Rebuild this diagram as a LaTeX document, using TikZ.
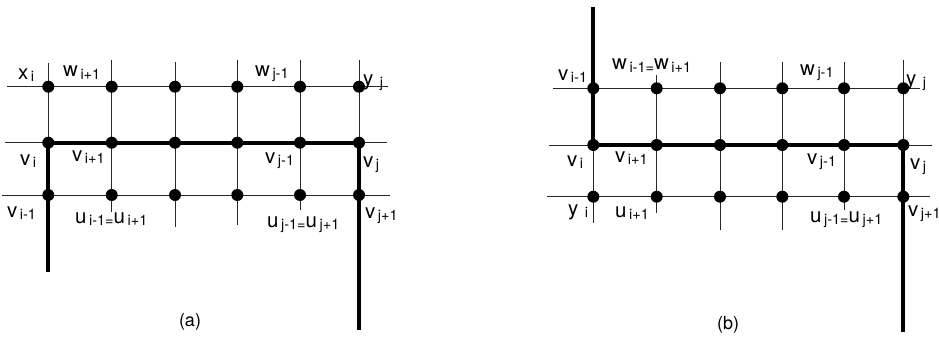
\documentclass[tikz,border=0pt]{standalone}
\usepackage{fontspec}
\setmainfont{TeX Gyre Heros}
\newcommand{\lb}[2]{{\fontsize{20.5}{20.5}\selectfont #1}\hspace{2.5pt}\raisebox{-2pt}{\fontsize{14.5}{14.5}\selectfont #2}}

\begin{document}
\begin{tikzpicture}[x=1pt,y=-1pt,
  grid/.style={line width=0.8pt,draw=black!85},
  route/.style={line width=4pt,draw=black},
  dot/.style={circle,fill=black,inner sep=0pt,minimum size=12pt},
  lbl/.style={anchor=base west,inner sep=0pt},
  panelcap/.style={font=\fontsize{18}{18}\selectfont},
]
  \useasboundingbox (0,0) rectangle (939,337);
  % panel (a): rows and columns
  \coordinate (aL1) at (7,86.7);   \coordinate (aR1) at (388,86.7);
  \coordinate (aL2) at (5,142.7);  \coordinate (aR2) at (387,142.7);
  \coordinate (aL3) at (2,195);    \coordinate (aR3) at (390,195);
  \foreach \c/\x/\t/\b in {1/48.3/63/272,2/111.7/60/212,3/175/62/227,4/237.3/60/225,5/300/60/210,6/359/60/330}{
    \coordinate (aT\c) at (\x,\t);
    \coordinate (aB\c) at (\x,\b);
    \foreach \r/\y in {1/86.7,2/142.7,3/195}
      \coordinate (pa\r\c) at (\x,\y);
  }
  \foreach \r in {1,2,3} \draw[grid] (aL\r) -- (aR\r);
  \foreach \c in {2,3,4,5} \draw[grid] (aT\c) -- (aB\c);
  \draw[grid] (aT1) -- (pa21);
  \draw[grid] (aT6) -- (pa26);
  \draw[route] (aB1) -- (pa21) -- (pa26) -- (aB6);
  \foreach \r in {1,2,3} \foreach \c in {1,...,6} \node[dot] (a\r\c) at (pa\r\c) {};
  % panel (a): labels
  \node[lbl] (ax1) at (18,79) {\lb{x}{i}};
  \node[lbl] (aw2) at (63,77) {\lb{w}{i+1}};
  \node[lbl] (aw5) at (255,76) {\lb{w}{j-1}};
  \node[lbl] (ay6) at (363,85) {\lb{y}{ j}};
  \node[lbl] (av1) at (20,165) {\lb{v}{i}};
  \node[lbl] (av2) at (72,161) {\lb{v}{i+1}};
  \node[lbl] (av5) at (265,163) {\lb{v}{j-1}};
  \node[lbl] (av6) at (363,167) {\lb{v}{j}};
  \node[lbl] (au1) at (7,217) {\lb{v}{i-1}};
  \node[lbl] (au2) at (75,223) {\lb{u}{i-1=}\lb{u}{i+1}};
  \node[lbl] (au5) at (267,227) {\lb{u}{j-1=}\lb{u}{j+1}};
  \node[lbl] (au6) at (365,218) {\lb{v}{j+1}};
  \node[panelcap] (capa) at (190,322) {(a)};

  % panel (b): rows and columns
  \coordinate (bL1) at (553,88.3); \coordinate (bR1) at (920,88.3);
  \coordinate (bL2) at (549,145);  \coordinate (bR2) at (932,145);
  \coordinate (bL3) at (547,196.7);\coordinate (bR3) at (930,196.7);
  \foreach \c/\x/\t/\b in {1/593.3/7/223,2/656.7/75/213,3/720/62/230,4/782.3/62/230,5/844/62/210,6/903.3/60/332}{
    \coordinate (bT\c) at (\x,\t);
    \coordinate (bB\c) at (\x,\b);
    \foreach \r/\y in {1/88.3,2/145,3/196.7}
      \coordinate (pb\r\c) at (\x,\y);
  }
  \foreach \r in {1,2,3} \draw[grid] (bL\r) -- (bR\r);
  \foreach \c in {2,3,4,5} \draw[grid] (bT\c) -- (bB\c);
  \draw[grid] (pb21) -- (bB1);
  \draw[grid] (bT6) -- (pb26);
  \draw[route] (bT1) -- (pb21) -- (pb26) -- (bB6);
  \foreach \r in {1,2,3} \foreach \c in {1,...,6} \node[dot] (b\r\c) at (pb\r\c) {};
  % panel (b): labels
  \node[lbl] (bv0) at (558,80) {\lb{v}{i-1}};
  \node[lbl] (bw2) at (612,70) {\lb{w}{i-1=}\lb{w}{i+1}};
  \node[lbl] (bw5) at (800,75) {\lb{w}{j-1}};
  \node[lbl] (by6) at (906,85) {\lb{y}{ j}};
  \node[lbl] (bv1) at (567,166) {\lb{v}{i}};
  \node[lbl] (bv2) at (615,162) {\lb{v}{i+1}};
  \node[lbl] (bv5) at (807,164) {\lb{v}{j-1}};
  \node[lbl] (bv6) at (910,169) {\lb{v}{j}};
  \node[lbl] (by1) at (568,215) {\lb{y}{ i}};
  \node[lbl] (bu2) at (615,217) {\lb{u}{i+1}};
  \node[lbl] (bu5) at (810,222) {\lb{u}{j-1=}\lb{u}{j+1}};
  \node[lbl] (bv7) at (908,216) {\lb{v}{j+1}};
  \node[panelcap] (capb) at (728,325) {(b)};
\end{tikzpicture}
\end{document}
